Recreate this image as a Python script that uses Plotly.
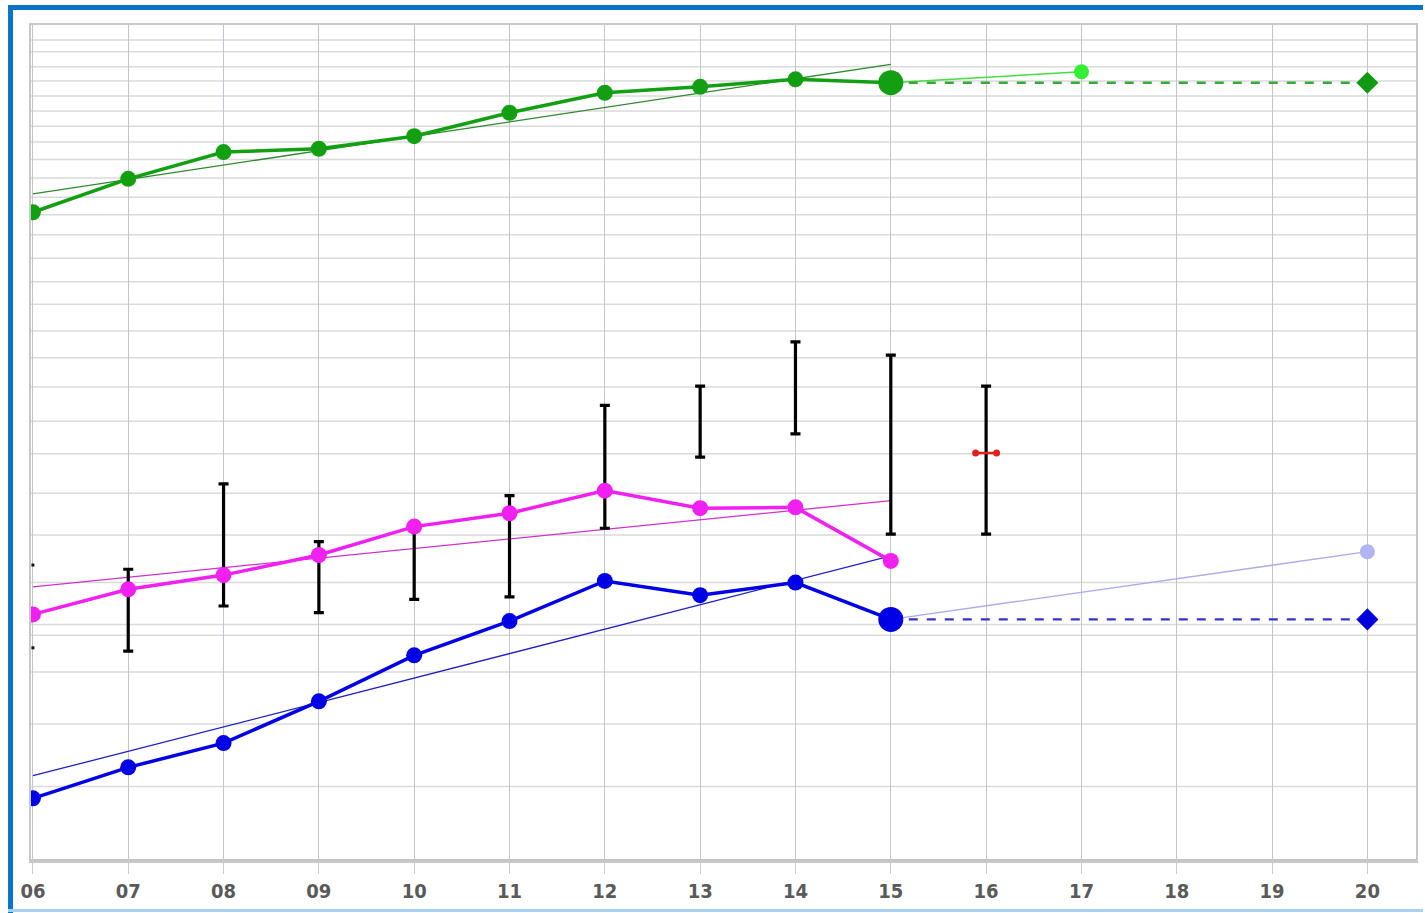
import plotly.graph_objects as go

# ---------------- data ----------------
years = [6, 7, 8, 9, 10, 11, 12, 13, 14, 15]
year_labels = ["06", "07", "08", "09", "10", "11", "12", "13", "14", "15", "16", "17", "18", "19", "20"]
tick_years = list(range(6, 21))

green = [77.6, 81.6, 84.8, 85.2, 86.7, 89.5, 91.9, 92.6, 93.5, 93.1]
magenta = [29.5, 32.5, 34.2, 36.6, 40.0, 41.6, 44.3, 42.2, 42.3, 35.9]
blue = [7.5, 11.2, 14.1, 19.1, 24.6, 28.7, 33.5, 31.8, 33.3, 28.9]

green_trend_x = [6, 15]
green_trend_y = [79.8, 95.3]
magenta_trend_x = [6, 15]
magenta_trend_y = [32.8, 43.1]
blue_trend_x = [6, 15]
blue_trend_y = [10.2, 36.5]

green_proj_x = [15, 17]
green_proj_y = [93.1, 94.4]
blue_proj_x = [15, 20]
blue_proj_y = [28.9, 37.0]

green_target_x = [15, 20]
green_target_y = [93.1, 93.1]
blue_target_x = [15, 20]
blue_target_y = [28.9, 28.9]

range_x = [7, 8, 9, 10, 11, 12, 13, 14, 15, 16]
range_low = [25.1, 30.5, 29.7, 31.3, 31.6, 39.8, 48.3, 51.1, 39.1, 39.1]
range_high = [34.9, 45.1, 38.2, 40.4, 43.7, 54.5, 56.8, 62.1, 60.5, 56.8]
first_range_x = [6, 6]
first_range_y = [25.5, 35.4]

red_x = [15.89, 16.11]
red_y = [48.8, 48.8]

grid_y = [8.9, 16.4, 22.6, 27.0, 28.3, 33.3, 39.0, 44.0, 48.7, 52.6, 56.7, 60.2, 63.4,
          66.6, 69.3, 72.1, 74.9, 77.3, 79.4, 81.7, 83.9, 86.0, 87.9, 89.7, 91.5, 93.3,
          95.0, 96.8, 98.2]

# ---------------- figure ----------------
W, H = 1425, 913
ML, MR, MT, MB = 31, 7, 25, 52
PW, PH = W - ML - MR, H - MT - MB


def px_x(p):
    return (p - ML) / PW


def px_y(p):
    return (H - MB - p) / PH


fig = go.Figure()

# trend lines
fig.add_trace(go.Scatter(x=green_trend_x, y=green_trend_y, mode="lines",
                         line=dict(color="#2f8a2f", width=1.3), hoverinfo="skip"))
fig.add_trace(go.Scatter(x=magenta_trend_x, y=magenta_trend_y, mode="lines",
                         line=dict(color="#d030d0", width=1.3), hoverinfo="skip"))
fig.add_trace(go.Scatter(x=blue_trend_x, y=blue_trend_y, mode="lines",
                         line=dict(color="#2020c0", width=1.3), hoverinfo="skip"))

# projections
fig.add_trace(go.Scatter(x=green_proj_x, y=green_proj_y, mode="lines+markers",
                         line=dict(color="#44dd44", width=1.6),
                         marker=dict(size=[0, 15], color="#33ee33", opacity=1, line=dict(width=0)),
                         hoverinfo="skip"))
fig.add_trace(go.Scatter(x=blue_proj_x, y=blue_proj_y, mode="lines+markers",
                         line=dict(color="#aaaaee", width=1.4),
                         marker=dict(size=[0, 15], color="#b0b4f0", opacity=1, line=dict(width=0)),
                         hoverinfo="skip"))

# targets (dashed)
fig.add_trace(go.Scatter(x=green_target_x, y=green_target_y, mode="lines+markers",
                         line=dict(color="#33aa33", width=2.4, dash="dash"),
                         marker=dict(size=[0, 17], symbol="diamond", color="#119911",
                                     opacity=1, line=dict(width=0)),
                         hoverinfo="skip"))
fig.add_trace(go.Scatter(x=blue_target_x, y=blue_target_y, mode="lines+markers",
                         line=dict(color="#3333cc", width=2.4, dash="dash"),
                         marker=dict(size=[0, 17], symbol="diamond", color="#0000dd",
                                     opacity=1, line=dict(width=0)),
                         hoverinfo="skip"))

# range bars
mid = [(lo + hi) / 2 for lo, hi in zip(range_low, range_high)]
half = [(hi - lo) / 2 for lo, hi in zip(range_low, range_high)]
fig.add_trace(go.Scatter(x=range_x, y=mid, mode="markers",
                         marker=dict(size=1, color="rgba(0,0,0,0)"),
                         error_y=dict(type="data", array=half, visible=True,
                                      color="#000000", thickness=3.2, width=5),
                         hoverinfo="skip"))
fig.add_trace(go.Scatter(x=first_range_x, y=first_range_y, mode="markers",
                         marker=dict(size=3, color="#111111", symbol="square"),
                         hoverinfo="skip"))

# red marker
fig.add_trace(go.Scatter(x=red_x, y=red_y, mode="lines+markers",
                         line=dict(color="#e02020", width=2.5),
                         marker=dict(size=7, color="#e02020", opacity=1), hoverinfo="skip"))

# main series
fig.add_trace(go.Scatter(x=years, y=magenta, mode="lines+markers",
                         line=dict(color="#f020f0", width=3.5),
                         marker=dict(size=16, color="#f020f0", opacity=1, line=dict(width=0)),
                         hoverinfo="skip"))
fig.add_trace(go.Scatter(x=years, y=blue, mode="lines+markers",
                         line=dict(color="#0000e6", width=3.5),
                         marker=dict(size=[16] * 9 + [25], color="#0000e6", opacity=1,
                                     line=dict(width=0)),
                         hoverinfo="skip"))
fig.add_trace(go.Scatter(x=years, y=green, mode="lines+markers",
                         line=dict(color="#12a012", width=3.5),
                         marker=dict(size=[16] * 9 + [25], color="#12a012", opacity=1,
                                     line=dict(width=0)),
                         hoverinfo="skip"))

# frame shapes
shapes = [
    dict(type="rect", xref="paper", yref="paper", x0=px_x(8), x1=px_x(13),
         y0=px_y(913), y1=px_y(5), fillcolor="#0a74c8", line=dict(width=0), layer="above"),
    dict(type="rect", xref="paper", yref="paper", x0=px_x(8), x1=px_x(1425),
         y0=px_y(10), y1=px_y(5), fillcolor="#0a74c8", line=dict(width=0), layer="above"),
    dict(type="rect", xref="paper", yref="paper", x0=px_x(8), x1=px_x(1425),
         y0=px_y(912), y1=px_y(909), fillcolor="#a8d0f0", line=dict(width=0), layer="above"),
    dict(type="line", xref="paper", yref="paper", x0=0, x1=1, y0=0, y1=0,
         line=dict(color="#c4c4c4", width=4), layer="below"),
]
for gy in grid_y:
    shapes.append(dict(type="line", xref="paper", yref="y", x0=0, x1=1, y0=gy, y1=gy,
                       line=dict(color="#dadada", width=1.5), layer="below"))

fig.update_layout(
    width=W, height=H,
    margin=dict(l=ML, r=MR, t=MT, b=MB),
    paper_bgcolor="white", plot_bgcolor="white",
    showlegend=False,
    shapes=shapes,
    xaxis=dict(range=[5.98, 20.51], tickmode="array", tickvals=tick_years,
               ticktext=year_labels, showgrid=True, gridcolor="#c0c6cc", gridwidth=1.2,
               zeroline=False, showline=True, linecolor="#c8c8c8", linewidth=2, mirror=True,
               ticks="outside", ticklen=11, tickcolor="#c8ccd0", tickwidth=1,
               tickfont=dict(family="DejaVu Sans Condensed, Liberation Sans Narrow, Roboto, sans-serif",
                             size=20, color="#5a5a5a", weight="bold")),
    yaxis=dict(range=[0, 100], showgrid=False, zeroline=False, showticklabels=False,
               showline=True, linecolor="#c8c8c8", linewidth=2, mirror=True, ticks=""),
)

fig.write_html("out.html", config={"displayModeBar": False},
               post_script="document.body.style.margin='0px';document.body.style.padding='0px';")
